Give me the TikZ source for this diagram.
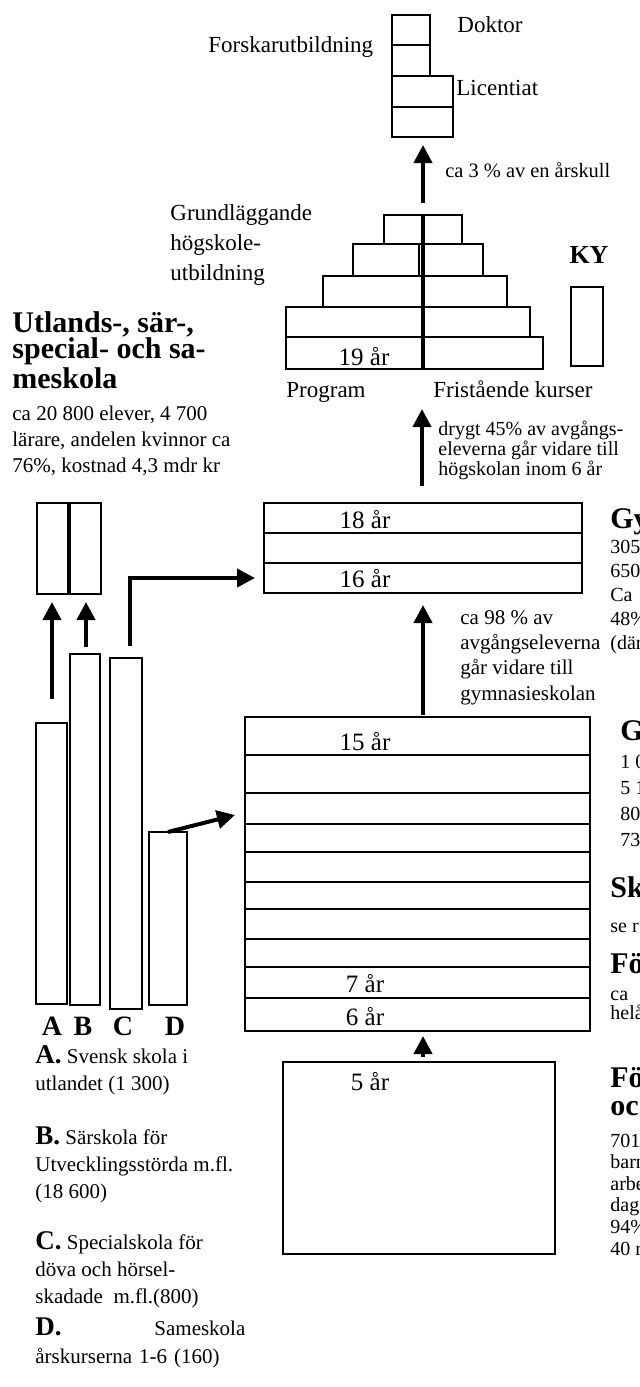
\documentclass[tikz,border=0pt]{standalone}
\usepackage{fontspec}
\setmainfont{Liberation Serif}
\usetikzlibrary{arrows.meta}

\tikzset{
  box/.style={line width=1.3pt},
  arr/.style={line width=2pt,-{Triangle[width=9pt,length=9pt]}},
  txt/.style={inner sep=0pt,anchor=base west,align=left,font=\fontsize{10.5}{13}\selectfont},
  big/.style={txt,font=\fontsize{11.5}{15}\selectfont},
  head/.style={txt,font=\fontsize{15}{13.2}\selectfont\bfseries},
  yr/.style={inner sep=0pt,anchor=base,font=\fontsize{12.5}{14}\selectfont},
}

\begin{document}
\begin{tikzpicture}[x=0.5pt,y=-0.5pt]
\useasboundingbox (0,0) rectangle (640,1387);
\clip (0,0) rectangle (640,1387);

% forskarutbildning
\draw[box] (392,15) rectangle (430,45);
\draw[box] (392,45) rectangle (430,76);
\draw[box] (392,76) rectangle (453,107);
\draw[box] (392,107) rectangle (453,137);
\node[big] (doktor) at (457,32) {Doktor};
\node[big] (forskar) at (208,52) {Forskarutbildning};
\node[big] (lic) at (456,95) {Licentiat};

\coordinate (hs-out) at (423,203);
\coordinate (fu-in) at (423,145);
\draw[arr] (hs-out) -- (fu-in);
\node[txt,font=\fontsize{10.2}{13}\selectfont] (tre) at (445,177) {ca 3 \% av en årskull};

% hogskola
\draw[box] (384,215) rectangle (423,244) (423,215) rectangle (462,244);
\draw[box] (353,244) rectangle (419,276) (423,244) rectangle (483,276);
\draw[box] (323,276) rectangle (423,307) (423,276) rectangle (507,307);
\draw[box] (286,307) rectangle (423,337) (423,307) rectangle (530,337);
\draw[box] (286,337) rectangle (423,369) (423,337) rectangle (543,369);
\draw[line width=2pt] (423,215) -- (423,369);
\node[yr] (nitton) at (364,365) {19 år};
\node[big] (prog) at (286,397) {Program};
\node[big] (frist) at (433,397) {Fristående kurser};
\node[big] (grundl) at (170,280) {Grundläggande\\högskole-\\utbildning};

\draw[box] (571,287) rectangle (603,366);
\node[yr,font=\fontsize{13}{14}\selectfont\bfseries] (ky) at (589,263) {KY};

% utlands- och sarskola
\node[head] (utl) at (12,388) {Utlands-, sär-,\\special- och sa-\\meskola};
\node[txt] (utl-txt) at (12,472) {ca 20 800 elever, 4 700\\lärare, andelen kvinnor ca\\76\%, kostnad 4,3 mdr kr};

\coordinate (gy-out) at (422,486);
\coordinate (hs-in) at (422,409);
\draw[arr] (gy-out) -- (hs-in);
\node[txt,font=\fontsize{10}{10}\selectfont] (drygt) at (438,475) {drygt 45\% av avgångs-\\eleverna går vidare till\\högskolan inom 6 år};

% gymnasieskola
\draw[box] (264,503) rectangle (582,533);
\draw[box] (264,533) rectangle (582,563);
\draw[box] (264,563) rectangle (582,593);
\node[yr] (arton) at (365,528) {18 år};
\node[yr] (sexton) at (365,587) {16 år};

\node[head] (gy) at (610,528) {Gy};
\node[txt,font=\fontsize{10}{12}\selectfont] (gy-txt) at (610,649) {305\\650\\Ca\\48\%\\(där};

\coordinate (gr-out) at (423,715);
\coordinate (gy-in) at (423,605);
\draw[arr] (gr-out) -- (gy-in);
\node[txt,font=\fontsize{10.5}{12.6}\selectfont] (nittio) at (460,700) {ca 98 \% av\\avgångseleverna\\går vidare till\\gymnasieskolan};

% grundskola
\draw[box] (245,717) rectangle (590,1031);
\foreach \y in {755,793,824,852,882,909,939,967,998}
  \draw[box] (245,\y) -- (590,\y);
\node[yr] (femton) at (365,750) {15 år};
\node[yr] (sju) at (365,992) {7 år};
\node[yr] (sex) at (365,1025) {6 år};

\node[head] (gr) at (620,740) {G};
\node[txt,font=\fontsize{10}{13}\selectfont] (gr-txt) at (620,846) {1 0\\5 1\\80\\73};
\node[head] (sk) at (610,897) {Sk};
\node[txt,font=\fontsize{10}{13}\selectfont] (sk-txt) at (610,932) {se r};
\node[head] (fk) at (610,973) {Fö};
\node[txt,font=\fontsize{10}{9.5}\selectfont] (fk-txt) at (610,1019) {ca\\helå};

% forskola
\coordinate (fs-out) at (423,1057);
\coordinate (gr-in) at (423,1036);
\draw[arr] (fs-out) -- (gr-in);
\draw[box] (283,1062) rectangle (555,1254);
\node[yr] (fem) at (370,1090) {5 år};

\node[head,font=\fontsize{15}{14}\selectfont\bfseries] (fo) at (610,1115) {Fö\\oc};
\node[txt,font=\fontsize{10}{10.8}\selectfont] (fo-txt) at (610,1255) {701\\barn\\arbe\\dag\\94\%\\40 r};

% utlands-, sar-, special- och sameskola
\draw[box] (37,503) rectangle (101,594);
\draw[line width=2pt] (69,503) -- (69,594);
\draw[box] (36,723) rectangle (67,1004);
\draw[box] (70,654) rectangle (100,1005);
\draw[box] (110,658) rectangle (142,1009);
\draw[box] (149,832) rectangle (187,1005);

\coordinate (a-out) at (52,699);
\coordinate (a-in) at (52,602);
\coordinate (b-out) at (86,647);
\coordinate (b-in) at (86,602);
\coordinate (c-out) at (130,646);
\coordinate (c-in) at (255,578);
\coordinate (d-out) at (168,832);
\coordinate (d-in) at (235,815);
\draw[arr] (a-out) -- (a-in);
\draw[arr] (b-out) -- (b-in);
\draw[arr] (c-out) |- (c-in);
\draw[arr] (d-out) -- (d-in);

\node[yr,font=\fontsize{14}{14}\selectfont\bfseries] (la) at (52,1035) {A};
\node[yr,font=\fontsize{14}{14}\selectfont\bfseries] (lb) at (83,1035) {B};
\node[yr,font=\fontsize{14}{14}\selectfont\bfseries] (lc) at (123,1035) {C};
\node[yr,font=\fontsize{14}{14}\selectfont\bfseries] (ld) at (175,1035) {D};

\node[txt,font=\fontsize{10.5}{13.3}\selectfont] (desc-a) at (35,1090)
  {{\fontsize{13.5}{13}\selectfont\bfseries A.} Svensk skola i\\utlandet (1 300)};
\node[txt,font=\fontsize{10.5}{13.3}\selectfont] (desc-b) at (35,1198)
  {{\fontsize{13.5}{13}\selectfont\bfseries B.} Särskola för\\Utvecklingsstörda m.fl.\\(18 600)};
\node[txt,font=\fontsize{10.5}{13.3}\selectfont] (desc-c) at (35,1303)
  {{\fontsize{13.5}{13}\selectfont\bfseries C.} Specialskola för\\döva och hörsel-\\skadade\ \ m.fl.(800)};
\node[txt,font=\fontsize{10.5}{14}\selectfont,text width=105pt] (desc-d) at (35,1335)
  {{\fontsize{13.5}{13}\selectfont\bfseries D.}\hfill Sameskola\\årskurserna 1-6 (160)};
\end{tikzpicture}
\end{document}
